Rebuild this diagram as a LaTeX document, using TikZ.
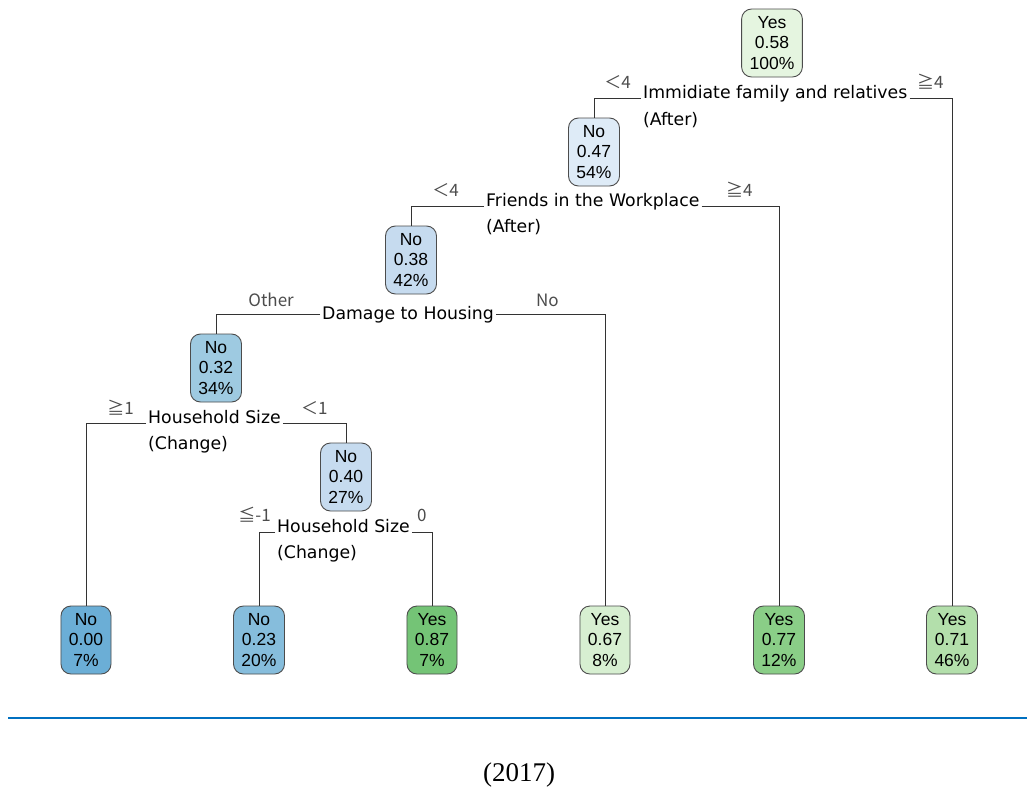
\documentclass[tikz,border=0pt]{standalone}
\usepackage{fontspec}
\setmainfont{Liberation Sans}
\newfontfamily\splitfont{DejaVu Sans}
\newfontfamily\edgefont{Noto Sans CJK JP}
\newfontfamily\capfont{Liberation Serif}
\definecolor{cY58}{HTML}{E5F5E0}
\definecolor{cN47}{HTML}{DEEBF7}
\definecolor{cN38}{HTML}{C6DBEF}
\definecolor{cN32}{HTML}{9ECAE1}
\definecolor{cN40}{HTML}{C6DBEF}
\definecolor{cN00}{HTML}{6BAED6}
\definecolor{cN23}{HTML}{86BDDC}
\definecolor{cY87}{HTML}{74C476}
\definecolor{cY67}{HTML}{D7EFD1}
\definecolor{cY77}{HTML}{8ACE87}
\definecolor{cY71}{HTML}{B3DFAB}
\definecolor{rule}{HTML}{0070C0}
\tikzset{
  tnode/.style={draw=black!70, line width=0.9pt, rounded corners=10pt,
    align=center, inner xsep=8pt, inner ysep=0pt, minimum height=68pt,
    font=\fontsize{17.5}{20.5}\selectfont},
  splitlab/.style={anchor=base west, inner sep=2pt,
    font=\splitfont\fontsize{17.3}{20}\selectfont},
  edgelab/.style={inner sep=0pt, text=black!70,
    font=\edgefont\fontsize{17}{20}\selectfont},
  branch/.style={draw=black!80, line width=0.8pt}
}
\begin{document}
\begin{tikzpicture}[x=1pt,y=-1pt]
\fill[white] (0,0) rectangle (1027,787);
\useasboundingbox (0,0) rectangle (1027,787);

% inner nodes
\node[tnode, fill=cY58] (n1) at (772,43)  {Yes\\0.58\\100\%};
\node[tnode, fill=cN47] (n2) at (594,152) {No\\0.47\\54\%};
\node[tnode, fill=cN38] (n3) at (411,260) {No\\0.38\\42\%};
\node[tnode, fill=cN32] (n4) at (216,368) {No\\0.32\\34\%};
\node[tnode, fill=cN40] (n5) at (346,477) {No\\0.40\\27\%};

% leaves
\node[tnode, fill=cN00] (l1) at (86,640)  {No\\0.00\\7\%};
\node[tnode, fill=cN23] (l2) at (259,640) {No\\0.23\\20\%};
\node[tnode, fill=cY87] (l3) at (432,640) {Yes\\0.87\\7\%};
\node[tnode, fill=cY67] (l4) at (605,640) {Yes\\0.67\\8\%};
\node[tnode, fill=cY77] (l5) at (779,640) {Yes\\0.77\\12\%};
\node[tnode, fill=cY71] (l6) at (952,640) {Yes\\0.71\\46\%};

% split labels
\node[splitlab] (s1)  at (641,98)  {Immidiate family and relatives};
\node[splitlab] (s1b) at (641,125) {(After)};
\node[splitlab] (s2)  at (484,206) {Friends in the Workplace};
\node[splitlab] (s2b) at (484,232) {(After)};
\node[splitlab] (s3)  at (320,319) {Damage to Housing};
\node[splitlab] (s4)  at (146,423) {Household Size};
\node[splitlab] (s4b) at (146,449) {(Change)};
\node[splitlab] (s5)  at (275,532) {Household Size};
\node[splitlab] (s5b) at (275,558) {(Change)};

% branches
\draw[branch] (s1.base west) -| (n2.north);
\draw[branch] (s1.base east) -| (l6.north);
\draw[branch] (s2.base west) -| (n3.north);
\draw[branch] (s2.base east) -| (l5.north);
\draw[branch] (s3.west) -| (n4.north);
\draw[branch] (s3.east) -| (l4.north);
\draw[branch] (s4.base west) -| (l1.north);
\draw[branch] (s4.base east) -| (n5.north);
\draw[branch] (s5.base west) -| (l2.north);
\draw[branch] (s5.base east) -| (l3.north);

% branch labels
\node[edgelab, anchor=base east] (e1l) at (631,88)  {＜4};
\node[edgelab, anchor=base west] (e1r) at (917,88)  {≧4};
\node[edgelab, anchor=base east] (e2l) at (459,196) {＜4};
\node[edgelab, anchor=base west] (e2r) at (726,196) {≧4};
\node[edgelab, anchor=base east] (e3l) at (294,306) {Other};
\node[edgelab, anchor=base west] (e3r) at (536,306) {No};
\node[edgelab, anchor=base east] (e4l) at (134,414) {≧1};
\node[edgelab, anchor=base west] (e4r) at (301,414) {＜1};
\node[edgelab, anchor=base east] (e5l) at (271,521) {≦-1};
\node[edgelab, anchor=base west] (e5r) at (417,521) {0};

% rule and caption
\coordinate (ruleL) at (8,718);
\coordinate (ruleR) at (1027,718);
\draw[rule, line width=2pt] (ruleL) -- (ruleR);
\node[font=\capfont\fontsize{27}{30}\selectfont, anchor=base] (cap) at (519,781) {(2017)};
\end{tikzpicture}
\end{document}
